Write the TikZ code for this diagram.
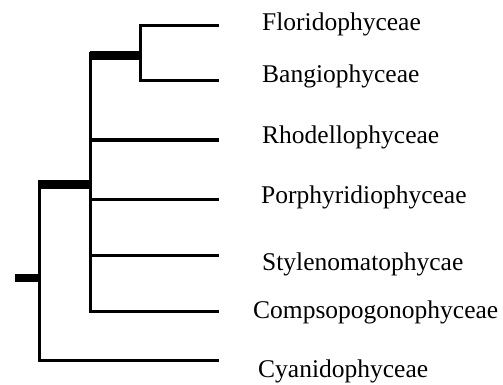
\documentclass[tikz,border=0pt]{standalone}
\usepackage{fontspec}
\setmainfont{Liberation Serif}
\begin{document}
\begin{tikzpicture}[x=1pt,y=-1pt,
  thin branch/.style={line width=3pt,line cap=butt,line join=miter},
  thick branch/.style={line width=9pt,line cap=butt},
  taxon/.style={anchor=base west,inner sep=0pt,font=\fontsize{25.5}{30}\selectfont}]
\useasboundingbox (0,0) rectangle (503,385);
% joints
\coordinate (r0) at (15,278);
\coordinate (r1) at (39.5,278);
\coordinate (a0v) at (39.5,180);
\coordinate (a1) at (90,184.5);
\coordinate (b0v) at (90,52);
\coordinate (b1) at (140,56);
% tips
\coordinate (t1) at (219,26);
\coordinate (t2) at (219,81);
\coordinate (t3) at (219,140);
\coordinate (t4) at (219,199);
\coordinate (t5) at (219,255);
\coordinate (t6) at (219,311);
\coordinate (t7) at (219,360);
% labels
\node[taxon] (l1) at (262,31) {Floridophyceae};
\node[taxon] (l2) at (262,83) {Bangiophyceae};
\node[taxon] (l3) at (262,143) {Rhodellophyceae};
\node[taxon] (l4) at (261,203) {Porphyridiophyceae};
\node[taxon] (l5) at (262,270) {Stylenomatophycae};
\node[taxon] (l6) at (253,318) {Compsopogonophyceae};
\node[taxon] (l7) at (258,377) {Cyanidophyceae};
% tree
\draw[line width=8pt] (r0) -- (r1);
\draw[thin branch] (a0v) |- (t7);
\draw[thick branch] (39.5,184.5) -- (a1);
\draw[thin branch] (b0v) |- (t6);
\draw[thin branch] (90,140) -- (t3);
\draw[thin branch] (90,199) -- (t4);
\draw[thin branch] (90,255) -- (t5);
\draw[thick branch] (90,56) -- (b1);
\draw[thin branch] (t1) -| (140,81) -- (t2);
\end{tikzpicture}
\end{document}
